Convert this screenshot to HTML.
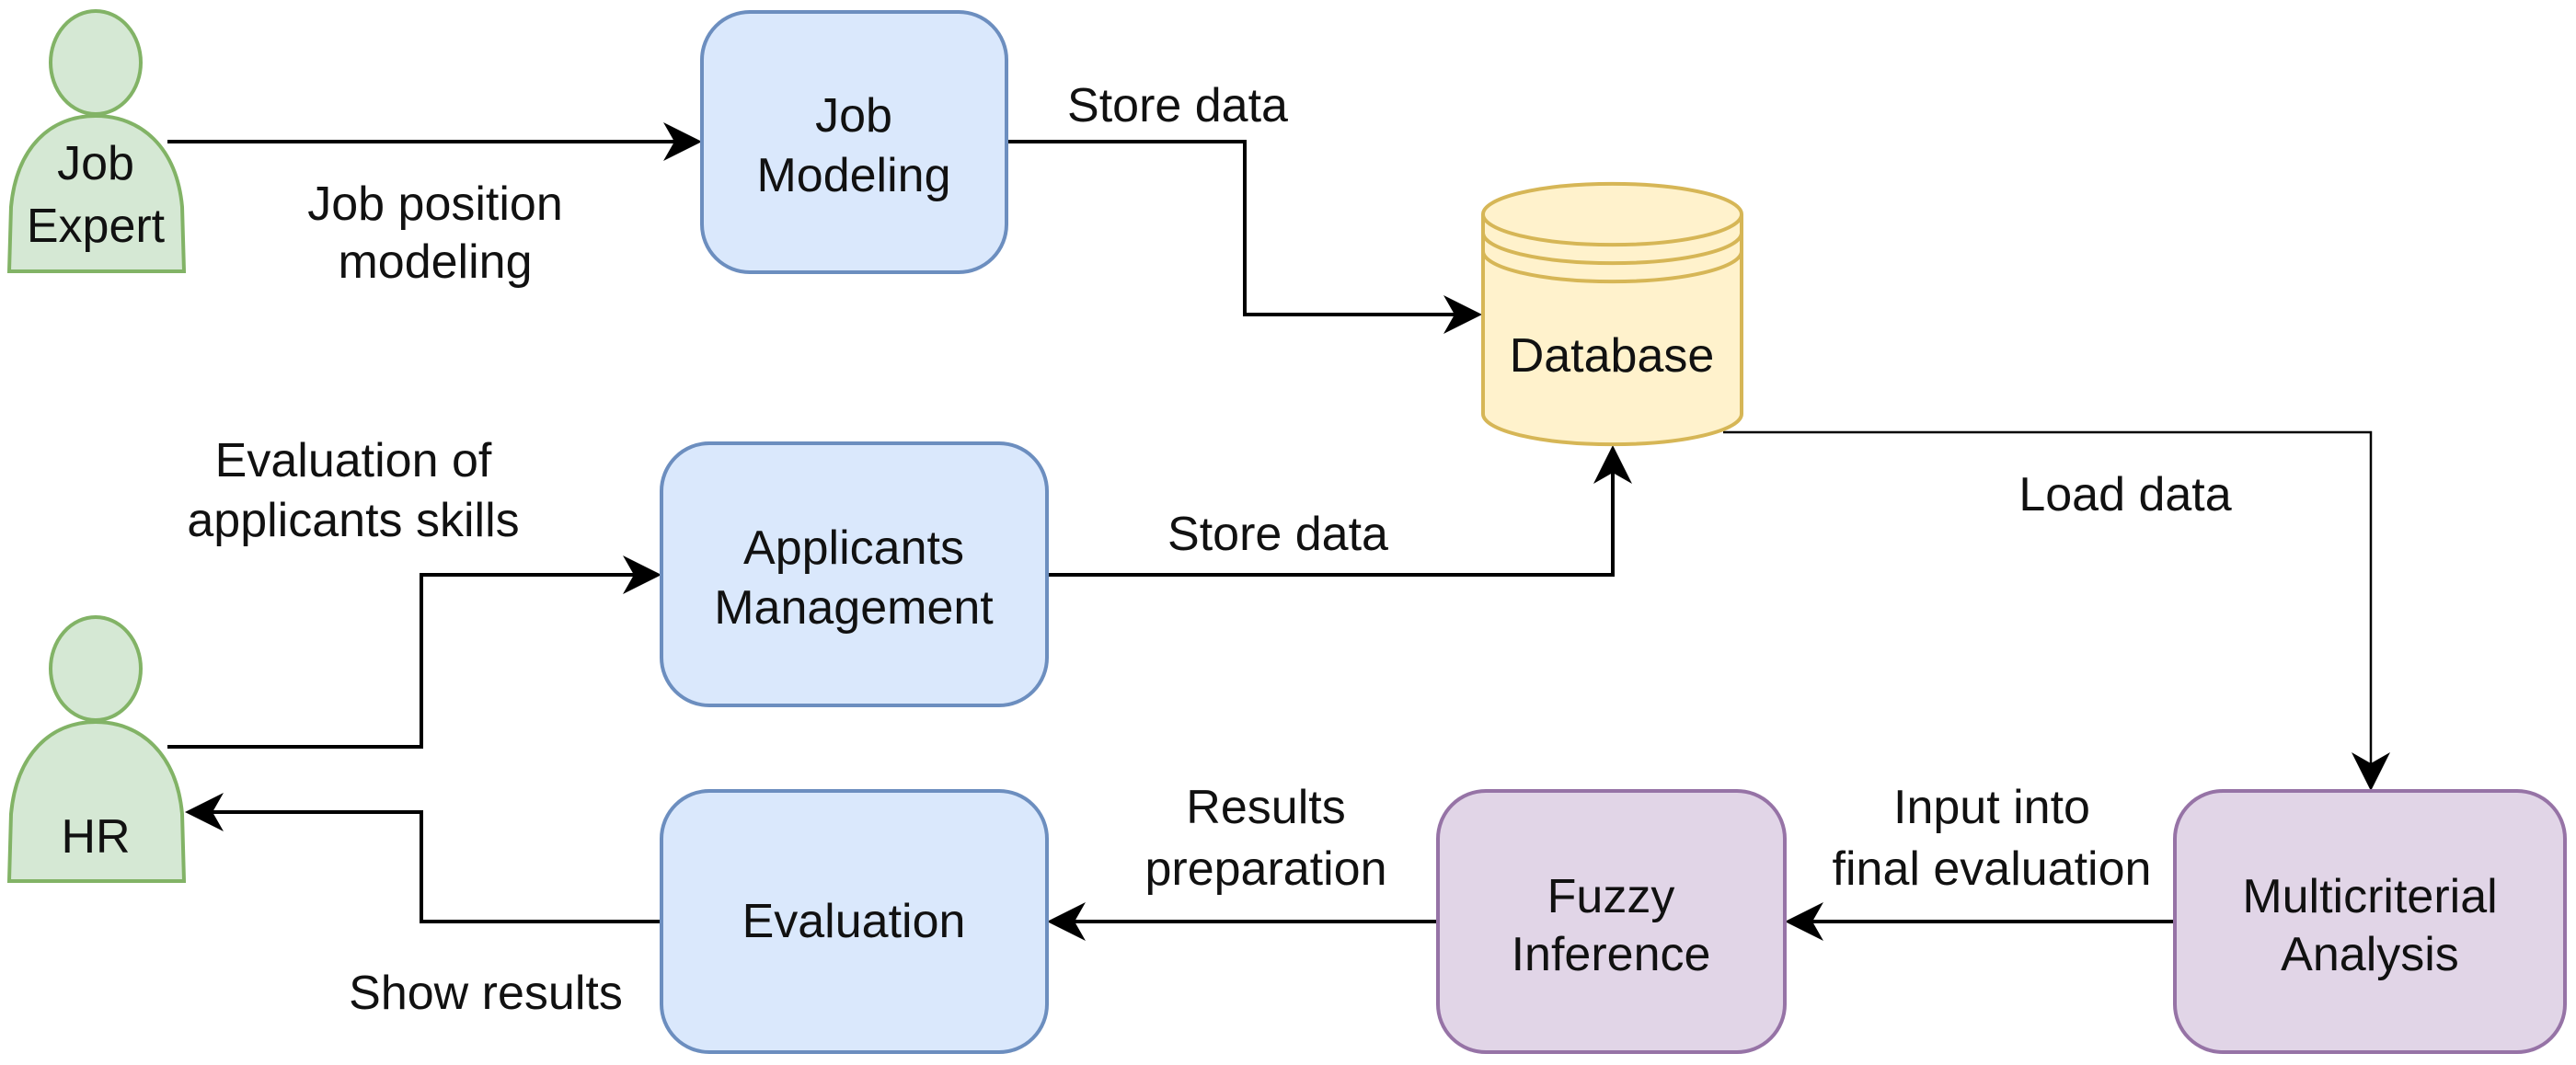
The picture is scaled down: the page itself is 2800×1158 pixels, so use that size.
<!DOCTYPE html>
<html><head><meta charset="utf-8"><style>
html,body{margin:0;padding:0;background:#fff;}
svg{display:block;}
text{font-family:"Liberation Sans",Arial,sans-serif;font-size:52px;fill:#111;text-anchor:middle;dominant-baseline:central;}
</style></head><body>
<svg width="2800" height="1158" viewBox="0 0 2800 1158" xmlns="http://www.w3.org/2000/svg">
<defs>
<path id="ah" d="M0,0 L-42,-21 L-30,0 L-42,21 Z" fill="#000"/>
</defs>
<!-- connectors -->
<g fill="none" stroke="#000" stroke-width="4">
<path d="M182,154 H735"/>
<path d="M1094,154 H1353 V342 H1584"/>
<path d="M182,812 H458 V625 H691"/>
<path d="M1138,625 H1753 V512"/>
<path d="M719,1002 H458 V883 H229"/>
<path d="M1563,1002 H1166"/>
<path d="M2364,1002 H1968"/>
</g>
<path d="M1873,470 H2577 V832" fill="none" stroke="#000" stroke-width="2.5"/>
<use href="#ah" transform="translate(763,154)"/>
<use href="#ah" transform="translate(1611,342)"/>
<use href="#ah" transform="translate(719,625)"/>
<use href="#ah" transform="translate(1753,484) rotate(-90)"/>
<use href="#ah" transform="translate(201,883) rotate(180)"/>
<use href="#ah" transform="translate(1138,1002) rotate(180)"/>
<use href="#ah" transform="translate(1940,1002) rotate(180)"/>
<use href="#ah" transform="translate(2577,860) rotate(90)"/>

<!-- actors -->
<g fill="#d5e8d4" stroke="#82b366" stroke-width="4">
<ellipse cx="104" cy="68" rx="49" ry="56"/>
<path d="M10,295 L12,225 C18,160 55,126 104,126 C153,126 192,160 198,225 L200,295 Z"/>
<ellipse cx="104" cy="727" rx="49" ry="56"/>
<path d="M10,958 L12,885 C18,820 55,785 104,785 C153,785 192,820 198,885 L200,958 Z"/>
</g>
<text x="104" y="178">Job</text>
<text x="104" y="246">Expert</text>
<text x="104" y="910">HR</text>

<!-- blue boxes -->
<g fill="#dae8fc" stroke="#6c8ebf" stroke-width="4">
<rect x="763" y="13" width="331" height="283" rx="52"/>
<rect x="719" y="482" width="419" height="285" rx="52"/>
<rect x="719" y="860" width="419" height="284" rx="52"/>
</g>
<g fill="#e1d5e7" stroke="#9673a6" stroke-width="4">
<rect x="1563" y="860" width="377" height="284" rx="52"/>
<rect x="2364" y="860" width="424" height="284" rx="52"/>
</g>
<!-- database -->
<g fill="#fff2cc" stroke="#d6b656" stroke-width="4">
<path d="M1612,233 A140,33 0 0 1 1893,233 V450 A140,33 0 0 1 1612,450 Z"/>
<path d="M1612,233 A140,33 0 0 0 1893,233" fill="none"/>
<path d="M1612,253 A140,33 0 0 0 1893,253" fill="none"/>
<path d="M1612,273 A140,33 0 0 0 1893,273" fill="none"/>
</g>
<text x="1752" y="387">Database</text>

<text x="928" y="126">Job</text>
<text x="928" y="191">Modeling</text>
<text x="928" y="596">Applicants</text>
<text x="928" y="661">Management</text>
<text x="928" y="1002">Evaluation</text>
<text x="1751" y="975">Fuzzy</text>
<text x="1751" y="1038">Inference</text>
<text x="2576" y="975">Multicriterial</text>
<text x="2576" y="1038">Analysis</text>

<text x="473" y="222">Job position</text>
<text x="473" y="285">modeling</text>
<text x="1280" y="115">Store data</text>
<text x="384" y="501">Evaluation of</text>
<text x="384" y="566">applicants skills</text>
<text x="1389" y="581">Store data</text>
<text x="2310" y="538">Load data</text>
<text x="528" y="1080">Show results</text>
<text x="1376" y="878">Results</text>
<text x="1376" y="945">preparation</text>
<text x="2165" y="878">Input into</text>
<text x="2165" y="945">final evaluation</text>
</svg>
</body></html>
